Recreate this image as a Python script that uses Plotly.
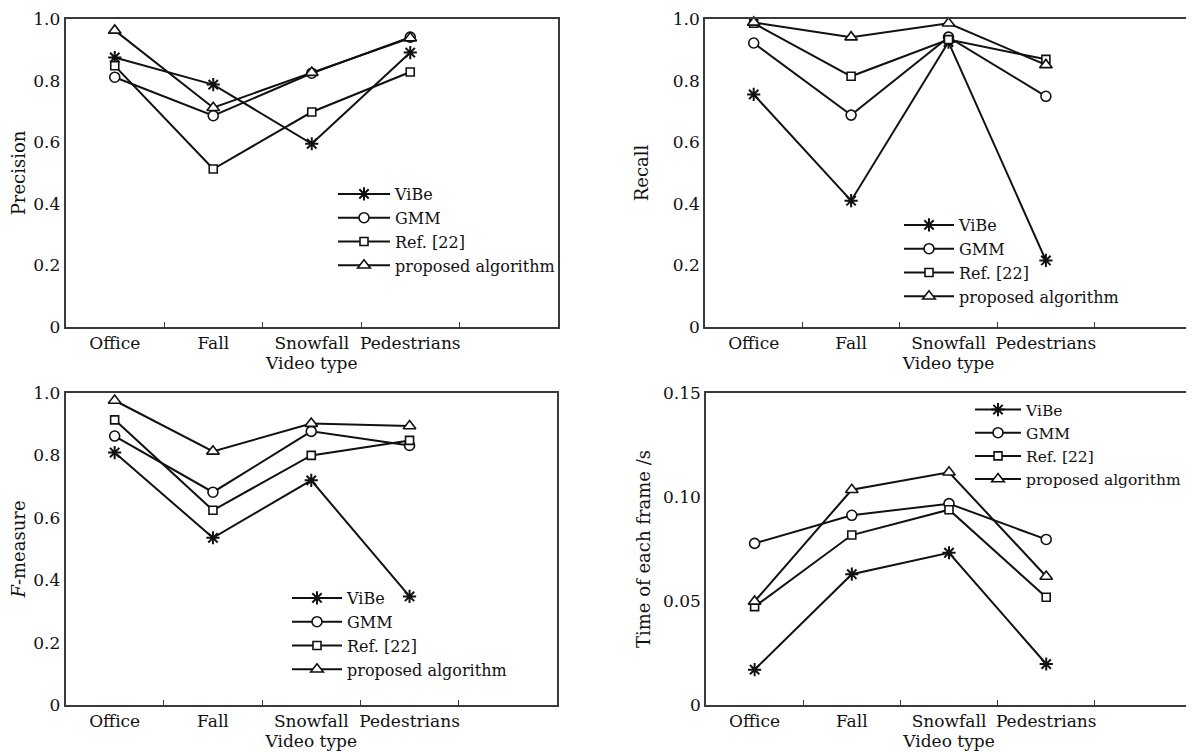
import plotly.graph_objects as go

categories = ["Office", "Fall", "Snowfall", "Pedestrians"]
methods = ["ViBe", "GMM", "Ref. [22]", "proposed algorithm"]

precision_vibe = [0.875, 0.787, 0.595, 0.891]
precision_gmm = [0.811, 0.686, 0.824, 0.941]
precision_ref22 = [0.848, 0.513, 0.698, 0.828]
precision_proposed = [0.963, 0.712, 0.826, 0.938]

recall_vibe = [0.755, 0.410, 0.925, 0.216]
recall_gmm = [0.922, 0.688, 0.941, 0.749]
recall_ref22 = [0.986, 0.814, 0.933, 0.869]
recall_proposed = [0.989, 0.941, 0.986, 0.851]

fmeasure_vibe = [0.809, 0.536, 0.720, 0.348]
fmeasure_gmm = [0.862, 0.682, 0.877, 0.832]
fmeasure_ref22 = [0.914, 0.624, 0.800, 0.848]
fmeasure_proposed = [0.976, 0.813, 0.902, 0.894]

time_vibe = [0.0170, 0.0629, 0.0732, 0.0197]
time_gmm = [0.0777, 0.0912, 0.0968, 0.0796]
time_ref22 = [0.0473, 0.0817, 0.0939, 0.0518]
time_proposed = [0.0498, 0.1035, 0.1119, 0.0618]

ytick_vals_ratio = [0, 0.2, 0.4, 0.6, 0.8, 1.0]
ytick_text_ratio = ["0", "0.2", "0.4", "0.6", "0.8", "1.0"]
ytick_vals_time = [0, 0.05, 0.10, 0.15]
ytick_text_time = ["0", "0.05", "0.10", "0.15"]

# category positions: centers of unit slots on a 0..5 axis
cat_pos = [0.5, 1.5, 2.5, 3.5]
slot_edges = [1, 2, 3, 4]

# page body has an 8px margin; figure sized to fill the rest of the window
OFF = 8
W, H = 1194 - OFF, 752 - OFF
FONT = "DejaVu Serif, Liberation Serif, serif"
INK = "#111111"
FRAME = "#3a3a3a"

symbols = {
    "ViBe": dict(symbol="asterisk-open", size=11, color=INK, line=dict(color=INK, width=2)),
    "GMM": dict(symbol="circle", size=10, color="white", line=dict(color=INK, width=1.6)),
    "Ref. [22]": dict(symbol="square", size=8, color="white", line=dict(color=INK, width=1.6)),
    "proposed algorithm": dict(symbol="triangle-up", size=11, color="white", line=dict(color=INK, width=1.6)),
}

# panel boxes and legend anchors in window pixels
panels = [
    dict(data=[precision_vibe, precision_gmm, precision_ref22, precision_proposed],
         title="Precision", tv=ytick_vals_ratio, tt=ytick_text_ratio, rng=[0, 1.0],
         x=(65.5, 558), y=(19, 327), legend="legend", standoff=6,
         leg=(333, 177, 16, 52)),
    dict(data=[recall_vibe, recall_gmm, recall_ref22, recall_proposed],
         title="Recall", tv=ytick_vals_ratio, tt=ytick_text_ratio, rng=[0, 1.0],
         x=(705, 1192), y=(19, 327), legend="legend2", standoff=20,
         leg=(899, 208, 16, 50)),
    dict(data=[fmeasure_vibe, fmeasure_gmm, fmeasure_ref22, fmeasure_proposed],
         title="<i>F</i>-measure", tv=ytick_vals_ratio, tt=ytick_text_ratio, rng=[0, 1.0],
         x=(65.5, 557), y=(393, 705), legend="legend3", standoff=6,
         leg=(287, 581, 16, 50)),
    dict(data=[time_vibe, time_gmm, time_ref22, time_proposed],
         title="Time of each frame /s", tv=ytick_vals_time, tt=ytick_text_time, rng=[0, 0.15],
         x=(706, 1192), y=(393, 705), legend="legend4", standoff=8,
         leg=(970, 393, 15.5, 46)),
]


def px_x(v):
    return (v - OFF) / W


def px_y(v):
    return 1 - (v - OFF) / H


fig = go.Figure()
layout = dict(
    width=W, height=H,
    margin=dict(l=0, r=0, t=0, b=0, autoexpand=False),
    paper_bgcolor="white", plot_bgcolor="white",
    font=dict(family=FONT, size=17, color=INK),
)

for i, p in enumerate(panels, start=1):
    xa = "x" if i == 1 else f"x{i}"
    ya = "y" if i == 1 else f"y{i}"
    for name, vals in zip(methods, p["data"]):
        m = symbols[name]
        fig.add_trace(go.Scatter(
            x=cat_pos, y=vals, name=name, mode="lines+markers",
            xaxis=xa, yaxis=ya, legend=p["legend"],
            line=dict(color=INK, width=2),
            marker=dict(symbol=m["symbol"], size=m["size"], color=m["color"], line=m["line"]),
            cliponaxis=False,
        ))
    xkey = "xaxis" if i == 1 else f"xaxis{i}"
    ykey = "yaxis" if i == 1 else f"yaxis{i}"
    layout[xkey] = dict(
        domain=[px_x(p["x"][0]), px_x(p["x"][1])],
        anchor=ya, range=[0, 5], automargin=False,
        tickvals=cat_pos, ticktext=categories, ticks="",
        showline=True, linecolor=FRAME, linewidth=1.5, mirror=True,
        showgrid=False, zeroline=False, ticklabeloverflow="allow",
        tickfont=dict(family=FONT, size=17, color=INK),
        title=dict(text="Video type", font=dict(family=FONT, size=17, color=INK), standoff=0),
        minor=dict(tickvals=slot_edges, ticks="inside", ticklen=5, tickcolor=FRAME, tickwidth=1.2, showgrid=False),
    )
    layout[ykey] = dict(
        domain=[px_y(p["y"][1]), px_y(p["y"][0])],
        anchor=xa, range=p["rng"], automargin=False,
        tickvals=p["tv"], ticktext=p["tt"], ticks="",
        showline=True, linecolor=FRAME, linewidth=1.5, mirror=True,
        showgrid=False, zeroline=False, ticklabeloverflow="allow",
        tickfont=dict(family=FONT, size=17, color=INK),
        title=dict(text=p["title"], font=dict(family=FONT, size=18, color=INK), standoff=p["standoff"]),
    )
    layout[p["legend"]] = dict(
        x=px_x(p["leg"][0]), y=px_y(p["leg"][1]), xanchor="left", yanchor="top",
        bgcolor="rgba(0,0,0,0)", borderwidth=0,
        font=dict(family=FONT, size=p["leg"][2], color=INK),
        itemwidth=p["leg"][3], tracegroupgap=0,
    )

fig.update_layout(**layout)
fig.write_html("out.html")
